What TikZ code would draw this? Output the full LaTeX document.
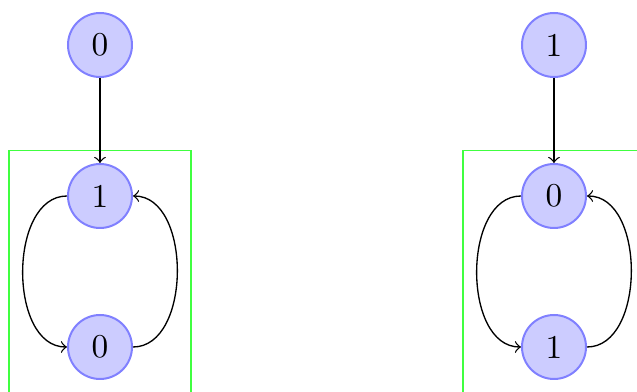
\documentclass[tikz,border=0pt]{standalone}
\usetikzlibrary{arrows, positioning, fit}
\tikzstyle{bit} = [circle, minimum size=19.2pt, inner sep=0pt, draw=blue!50, fill=blue!20, semithick]
\tikzstyle{group} = [rectangle, draw=green!75, thin, inner xsep=17.4pt, inner ysep=3.8pt]
\tikzstyle{arrow} = [->]
\begin{document}
\begin{tikzpicture}
            \clip (-30pt,13.5pt) rectangle (161.1pt,-104.1pt);

            % Left
            \node (l_top) [bit] {0};
            \node (l_mid) [bit, below=25.5pt of l_top] {1};
            \node (l_bot) [bit, below=25.5pt of l_mid] {0};
            \node (l_box) [group, fit=(l_mid)(l_bot)] {};

            \draw [arrow] (l_top) -- (l_mid);
            \draw [arrow] (l_mid.west) to[out=180, in=180] (l_bot.west);
            \draw [arrow] (l_bot.east) to[out=0, in=0] (l_mid.east);

            % Right
            \node (r_top) [bit, right=116.4pt of l_top] {1};
            \node (r_mid) [bit, below=25.5pt of r_top] {0};
            \node (r_bot) [bit, below=25.5pt of r_mid] {1};
            \node (r_box) [group, fit=(r_mid)(r_bot)] {};

            \draw [arrow] (r_top) -- (r_mid);
            \draw [arrow] (r_mid.west) to[out=180, in=180] (r_bot.west);
            \draw [arrow] (r_bot.east) to[out=0, in=0] (r_mid.east);
        \end{tikzpicture}
\end{document}
